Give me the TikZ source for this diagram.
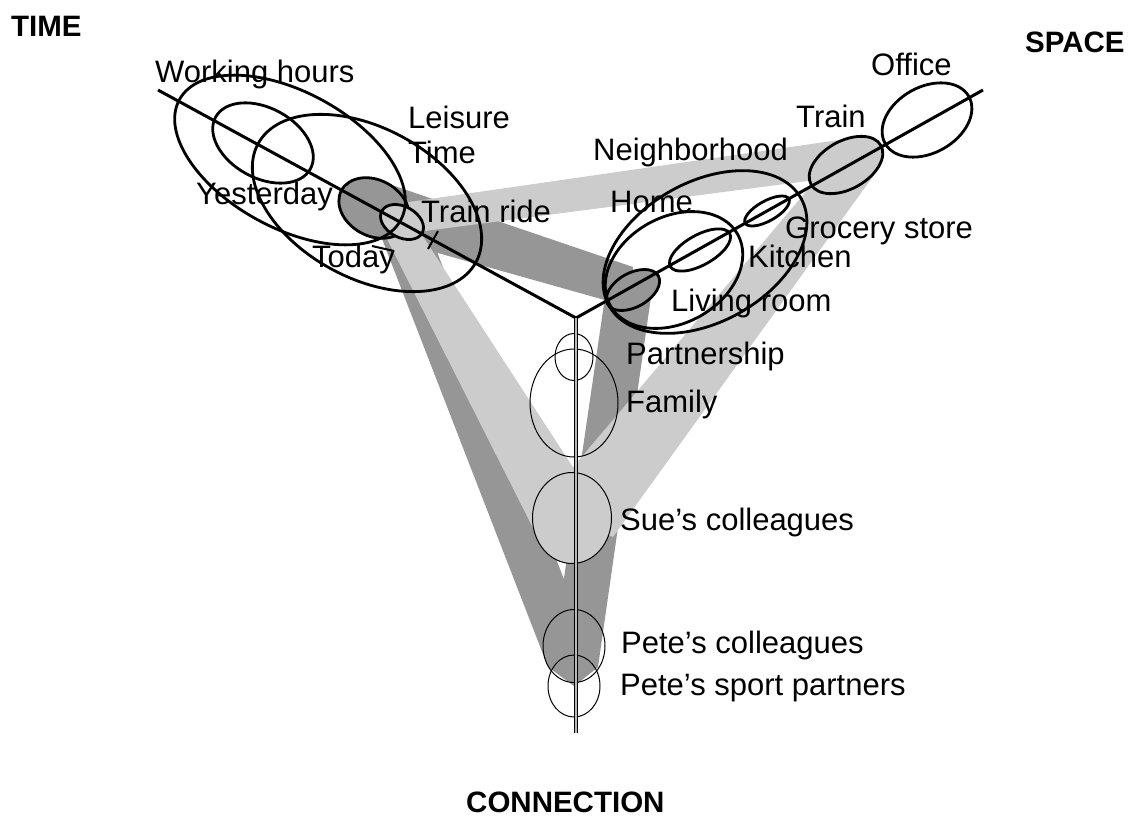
\documentclass[tikz,border=0pt]{standalone}
\usepackage{fontspec}
\setmainfont{Liberation Sans}
\usepackage{xcolor}
\usetikzlibrary{shapes.geometric,calc}
\pgfdeclarelayer{bands}
\pgfsetlayers{bands,main}
\definecolor{bandlight}{gray}{0.8}
\definecolor{banddark}{gray}{0.59}

\begin{document}
\begin{tikzpicture}[x=1pt,y=-1pt,
  ell/.style={ellipse,draw,line width=2.8pt,inner sep=0pt},
  tell/.style={ell,rotate=-28.6},
  sell/.style={ell,rotate=29.25},
  cell/.style={ellipse,draw,line width=1pt,inner sep=0pt},
  lab/.style={anchor=base west,inner sep=0pt,font=\fontsize{31}{35}\selectfont},
  axisname/.style={anchor=base west,inner sep=0pt,font=\fontsize{29.5}{35}\selectfont\bfseries}]
\useasboundingbox (0,0) rectangle (1133,816);

\node [tell,fill=banddark,minimum width=74,minimum height=56] (leisure) at (374,208) {};
\node [sell,fill=banddark,minimum width=58,minimum height=34] (living) at (633,290) {};
\node [tell,fill=bandlight,minimum width=46,minimum height=31] (trainride) at (402,222) {};
\node [sell,fill=bandlight,minimum width=80,minimum height=48] (train) at (846,165) {};
\node [cell,fill=bandlight,minimum width=79,minimum height=91] (sue) at (572,518) {};

\node [tell,minimum width=252,minimum height=136] (yesterday) at (290,160) {};
\node [tell,minimum width=108,minimum height=70] (workhours) at (263,143) {};
\node [tell,minimum width=248,minimum height=150] (today) at (367,203) {};

\node [sell,minimum width=96,minimum height=66] (office) at (927,120) {};
\node [sell,minimum width=50,minimum height=20] (grocery) at (767,211) {};
\node [sell,minimum width=220,minimum height=140] (neighborhood) at (705,252) {};
\node [sell,minimum width=146,minimum height=106] (home) at (674,270) {};
\node [sell,minimum width=68,minimum height=30] (kitchen) at (700,250) {};

\node [cell,minimum width=88,minimum height=108] (family) at (574,403) {};
\node [cell,minimum width=38,minimum height=47] (partnership) at (574,357) {};
\node [cell,minimum width=62,minimum height=73] (petecoll) at (574,646) {};
\node [cell,minimum width=52,minimum height=62] (petesport) at (574,686) {};

\begin{pgfonlayer}{bands}
\fill [banddark] ($(leisure)+(0,-29)$) -- ($(living)+(0,-23)$) -- ($(living)+(0,18)$) -- ($(leisure)+(0,27)$) -- cycle;
\fill [banddark] ($(leisure)+(-4,0)$) -- ($(leisure)+(46,0)$) -- ($(petecoll)+(24,21)$) -- ($(petecoll)+(0,40)$) -- ($(petecoll)+(-26,21)$) -- cycle;
\fill [banddark] ($(living)+(-27,0)$) -- ($(living)+(19,0)$) -- ($(petecoll)+(24,21)$) -- ($(petecoll)+(0,40)$) -- ($(petecoll)+(-23,21)$) -- cycle;
\fill [bandlight] ($(trainride)+(0,-19)$) -- ($(train)+(0,-26)$) -- ($(train)+(0,11)$) -- ($(trainride)+(0,12)$) -- cycle;
\fill [bandlight] ($(trainride)+(-17,13)$) -- ($(trainride)+(20,13)$) -- ($(sue)+(19,-23)$) -- ($(sue)+(-38,12)$) -- cycle;
\fill [bandlight] ($(train)+(-20,3)$) -- ($(train)+(33,3)$) -- ($(sue)+(41,19)$) -- ($(sue)+(-31,-13)$) -- cycle;
\end{pgfonlayer}

\coordinate (O) at (576,318);
\coordinate (T) at (158,90);
\coordinate (S) at (983,90);
\coordinate (C) at (576,733);
\draw [line width=3pt] (T) -- (O) -- (S);
\draw [line width=0.8pt,double=gray!55,double distance=1.8pt] (O) -- (C);
\draw [line width=2pt] (428,249) -- (438,231);
\draw [line width=2pt] (372,246) -- (394,251);

\node [lab] (lworkhours) at (155,82) {Working hours};
\node [lab,align=left,anchor=north west] (lleisure) at (408,106) {Leisure\\Time};
\node [lab] (lyesterday) at (196,204) {Yesterday};
\node [lab] (ltoday) at (312,267) {Today};
\node [lab] (ltrainride) at (421,222) {Train ride};
\node [lab] (loffice) at (871,75) {Office};
\node [lab] (ltrain) at (796,128) {Train};
\node [lab] (lneighborhood) at (593,160) {Neighborhood};
\node [lab] (lhome) at (610,212) {Home};
\node [lab] (lgrocery) at (785,238) {Grocery store};
\node [lab] (lkitchen) at (748,267) {Kitchen};
\node [lab] (lliving) at (671,311) {Living room};
\node [lab] (lpartnership) at (626,364) {Partnership};
\node [lab] (lfamily) at (626,412) {Family};
\node [lab] (lsue) at (620,530) {Sue's colleagues};
\node [lab] (lpetecoll) at (621,653) {Pete's colleagues};
\node [lab] (lpetesport) at (620,695) {Pete's sport partners};

\node [axisname] (time) at (11,37) {TIME};
\node [axisname] (space) at (1025,53) {SPACE};
\node [axisname] (connection) at (466,812) {CONNECTION};
\end{tikzpicture}
\end{document}
